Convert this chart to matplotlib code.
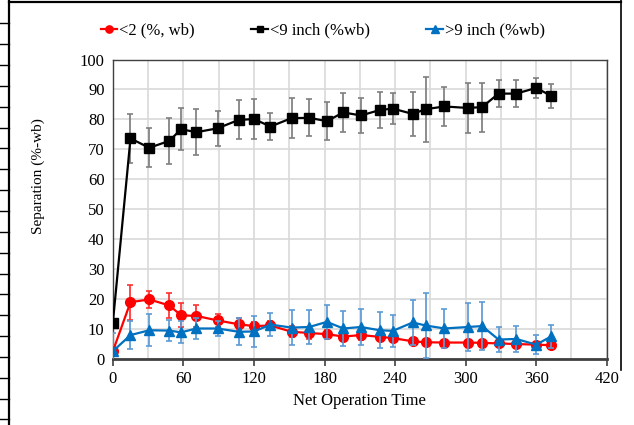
import matplotlib
matplotlib.use("Agg")
import matplotlib.pyplot as plt
from matplotlib.lines import Line2D
import numpy as np

plt.rcParams["font.family"] = ["Liberation Serif", "DejaVu Serif"]

# Net operation time for every sampling run
time = [0, 15, 31, 48, 58, 71, 89, 107, 120, 134, 152, 167, 182, 196, 211,
        227, 238, 255, 266, 282, 302, 314, 328, 343, 360, 373]

# <2 fraction (%, wet basis) and its spread
fine = [2.5, 18.9, 19.8, 17.8, 14.5, 14.3, 12.8, 11.5, 10.9, 11.1, 9.0, 8.6, 8.2,
        7.4, 7.9, 7.3, 6.9, 5.8, 5.5, 5.4, 5.4, 5.3, 5.1, 4.9, 4.7, 4.5]
fine_err = [1.0, 5.8, 2.7, 4.3, 4.0, 3.6, 2.2, 2.0, 1.5, 1.5, 1.8, 2.0, 1.5,
            1.6, 1.5, 1.5, 1.2, 1.0, 1.0, 1.0, 1.0, 1.0, 1.0, 1.0, 1.0, 1.0]

# <9 inch fraction (%wb) and its spread
small = [12.0, 73.6, 70.5, 72.8, 76.7, 75.7, 77.0, 79.8, 80.1, 77.6, 80.4, 80.5,
         79.4, 82.3, 81.3, 83.1, 83.6, 81.8, 83.4, 84.3, 83.8, 84.1, 88.6, 88.6,
         90.5, 87.8]
small_err = [0.0, 8.2, 6.5, 7.8, 7.0, 7.7, 5.8, 6.5, 6.8, 4.4, 6.8, 6.2, 6.3,
             6.6, 5.8, 6.1, 5.3, 7.3, 10.9, 6.5, 8.2, 8.2, 4.6, 4.5, 3.3, 3.9]

# >9 inch fraction (%wb) and its spread
large = [2.5, 7.9, 9.5, 9.4, 8.8, 10.1, 10.1, 9.0, 9.1, 11.4, 10.4, 10.6, 12.3,
         10.1, 10.6, 9.5, 9.3, 12.1, 11.1, 10.1, 10.6, 10.9, 6.4, 6.6, 4.7, 7.5]
large_err = [6.0, 4.8, 5.3, 3.6, 3.7, 3.6, 2.6, 4.5, 5.3, 3.9, 5.8, 5.6, 5.8,
             6.0, 6.0, 6.0, 5.3, 7.5, 11.0, 6.6, 8.1, 8.1, 4.3, 4.3, 3.2, 3.9]

labels = ["<2 (%, wb)", "<9 inch (%wb)", ">9 inch (%wb)"]
colors = ["#FF0000", "#000000", "#0070C0"]
err_colors = ["#FF3030", "#7F7F7F", "#5B9BD5"]
markers = ["o", "s", "^"]
sizes = [7, 6.5, 7]

fig = plt.figure(figsize=(6.34, 4.25), dpi=100)
ax = fig.add_axes([0.178, 0.156, 0.779, 0.704])

series = [(fine, fine_err), (small, small_err), (large, large_err)]
for i, (vals, errs) in enumerate(series):
    ax.errorbar(time, vals, yerr=errs, color=colors[i], marker=markers[i],
                markersize=sizes[i], linewidth=1.6, ecolor=err_colors[i],
                elinewidth=1.25, capsize=2, capthick=1.2, zorder=3 + i)

ax.set_xlim(0, 420)
ax.set_ylim(0, 100)
ax.set_xticks(np.arange(0, 421, 60))
ax.set_xticks(np.arange(30, 421, 60), minor=True)
ax.set_yticks(np.arange(0, 101, 10))
ax.grid(True, which="both", color="#D9D9D9", linewidth=1.2, zorder=0)
ax.set_axisbelow(True)

ax.tick_params(axis="x", which="major", length=5, width=1.2, color="#404040",
               labelsize=12, pad=4)
ax.tick_params(axis="x", which="minor", length=0)
ax.tick_params(axis="y", length=0, labelsize=12, pad=6)

for side in ["left", "right", "top"]:
    ax.spines[side].set_color("#404040")
    ax.spines[side].set_linewidth(1.0)
ax.spines["bottom"].set_color("#404040")
ax.spines["bottom"].set_linewidth(2.0)

ax.set_xlabel("Net Operation Time", fontsize=12, labelpad=4)
ax.set_ylabel("Separation (%-wb)", fontsize=11)
ax.yaxis.set_label_coords(-0.138, 0.61)

handles = [Line2D([], [], color=colors[i], marker=markers[i],
                  markersize=sizes[i] * 0.75, linewidth=1.6)
           for i in range(3)]
fig.legend(handles, labels, loc="center", bbox_to_anchor=(0.509, 0.928), ncol=3,
           frameon=False, fontsize=12, handlelength=1.0, handletextpad=0.1,
           columnspacing=3.4)

# page frame with ruler marks along the left edge
fig.add_artist(Line2D([9 / 634, 9 / 634], [0, 1], color="black", linewidth=1.6,
                      transform=fig.transFigure))
fig.add_artist(Line2D([9 / 634, 621 / 634], [1 - 2 / 425, 1 - 2 / 425],
                      color="black", linewidth=1.6, transform=fig.transFigure))
fig.add_artist(Line2D([621 / 634, 621 / 634], [1 - 370 / 425, 1],
                      color="black", linewidth=1.2, transform=fig.transFigure))
for yp in np.arange(23.3, 425, 20.85):
    fig.add_artist(Line2D([0, 9 / 634], [1 - yp / 425, 1 - yp / 425],
                          color="black", linewidth=1.0,
                          transform=fig.transFigure))

fig.savefig("out.png", dpi=100)
